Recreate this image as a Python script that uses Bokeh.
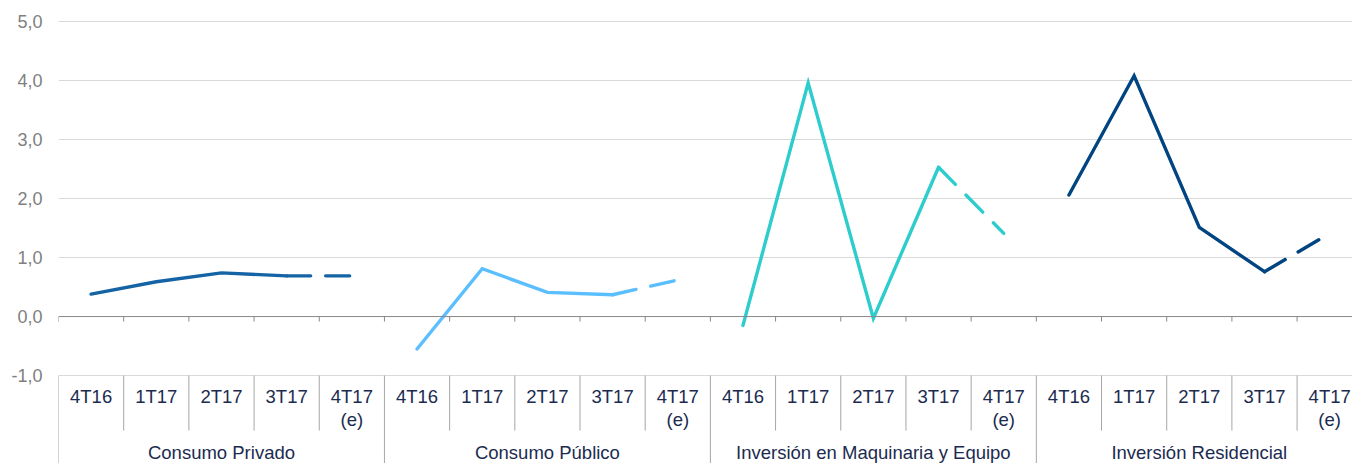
from bokeh.plotting import figure
from bokeh.models import Range1d, FixedTicker, Span
from bokeh.core.properties import value
from bokeh.embed import file_html
from bokeh.resources import INLINE

# ---- data ----
groups = ["Consumo Privado", "Consumo Público", "Inversión en Maquinaria y Equipo", "Inversión Residencial"]
quarters = ["4T16", "1T17", "2T17", "3T17", "4T17\n(e)"]
consumo_privado = [0.38, 0.59, 0.74, 0.69, 0.69]
consumo_publico = [-0.55, 0.81, 0.41, 0.37, 0.62]
inversion_maquinaria = [-0.15, 3.96, -0.03, 2.53, 1.41]
inversion_residencial = [2.06, 4.08, 1.51, 0.76, 1.41]
series = [consumo_privado, consumo_publico, inversion_maquinaria, inversion_residencial]
colors = ["#1464A5", "#5BBEFF", "#2DCCCD", "#004481"]
y_ticks = [-1, 0, 1, 2, 3, 4, 5]
y_labels = {t: f"{t:.1f}".replace(".", ",") for t in y_ticks}

FONT = "Liberation Sans"
PX_PER_UNIT = 59.0

nq = len(quarters)
ncat = nq * len(groups)

p = figure(width=1352, height=463, output_backend="svg", toolbar_location=None,
           x_range=Range1d(-0.5, 19.35), y_range=Range1d(-2.49, 5.22),
           min_border_left=58, min_border_right=0, min_border_top=8, min_border_bottom=0)
p.outline_line_color = None
p.background_fill_color = "white"
p.border_fill_color = "white"
p.xaxis.visible = False
p.xgrid.visible = False

# y axis
p.yaxis.ticker = FixedTicker(ticks=y_ticks)
p.yaxis.major_label_overrides = y_labels
p.yaxis.axis_line_color = None
p.yaxis.major_tick_line_color = None
p.yaxis.minor_tick_line_color = None
p.yaxis.major_tick_out = 0
p.yaxis.major_tick_in = 0
p.yaxis.major_label_standoff = 16
p.yaxis.major_label_text_font = FONT
p.yaxis.major_label_text_font_size = "18px"
p.yaxis.major_label_text_color = "#808080"
p.ygrid.ticker = FixedTicker(ticks=[t for t in y_ticks if t != 0])
p.ygrid.grid_line_color = "#d9d9d9"
p.ygrid.grid_line_width = 1

# zero axis line
p.add_layout(Span(location=0, dimension="width", line_color="#888888", line_width=1))

# ticks on zero line at category boundaries
tick_len = 5 / PX_PER_UNIT
bx = [k - 0.5 for k in range(ncat + 1)]
p.segment(x0=bx, y0=[0] * len(bx), x1=bx, y1=[-tick_len] * len(bx), line_color="#888888", line_width=1)

# table lines below -1
inner_bottom = -1 - (430 - 375) / PX_PER_UNIT
sep_x = [k - 0.5 for k in range(ncat) if k % nq != 0]
p.segment(x0=sep_x, y0=[-1] * len(sep_x), x1=sep_x, y1=[inner_bottom] * len(sep_x),
          line_color="#a6a6a6", line_width=1)
grp_x = [k - 0.5 for k in range(0, ncat, nq)]
p.segment(x0=grp_x, y0=[-1] * len(grp_x), x1=grp_x, y1=[-2.6] * len(grp_x),
          line_color="#a6a6a6", line_width=1)

# category labels
cat_x = list(range(ncat))
cat_txt = [q for _ in groups for q in quarters]
p.text(x=cat_x, y=[-1.185] * ncat, text=cat_txt, text_align="center", text_baseline="top",
       text_font=value(FONT), text_font_size="18.5px", text_color="#1b2b4f", text_line_height=1.05)

# group labels
gx = [g * nq + (nq - 1) / 2 for g in range(len(groups))]
p.text(x=gx, y=[-2.305] * len(groups), text=groups, text_align="center", text_baseline="middle",
       text_font=value(FONT), text_font_size="18.5px", text_color="#1b2b4f")

# lines
for g, (vals, c) in enumerate(zip(series, colors)):
    xs = [g * nq + i for i in range(nq)]
    p.line(xs[:nq - 1], vals[:nq - 1], line_color=c, line_width=3.4, line_join="miter", line_cap="round")
    p.line(xs[nq - 2:], vals[nq - 2:], line_color=c, line_width=3.4, line_cap="round", line_dash="24 15")

open("out.html", "w").write(file_html(p, INLINE))
